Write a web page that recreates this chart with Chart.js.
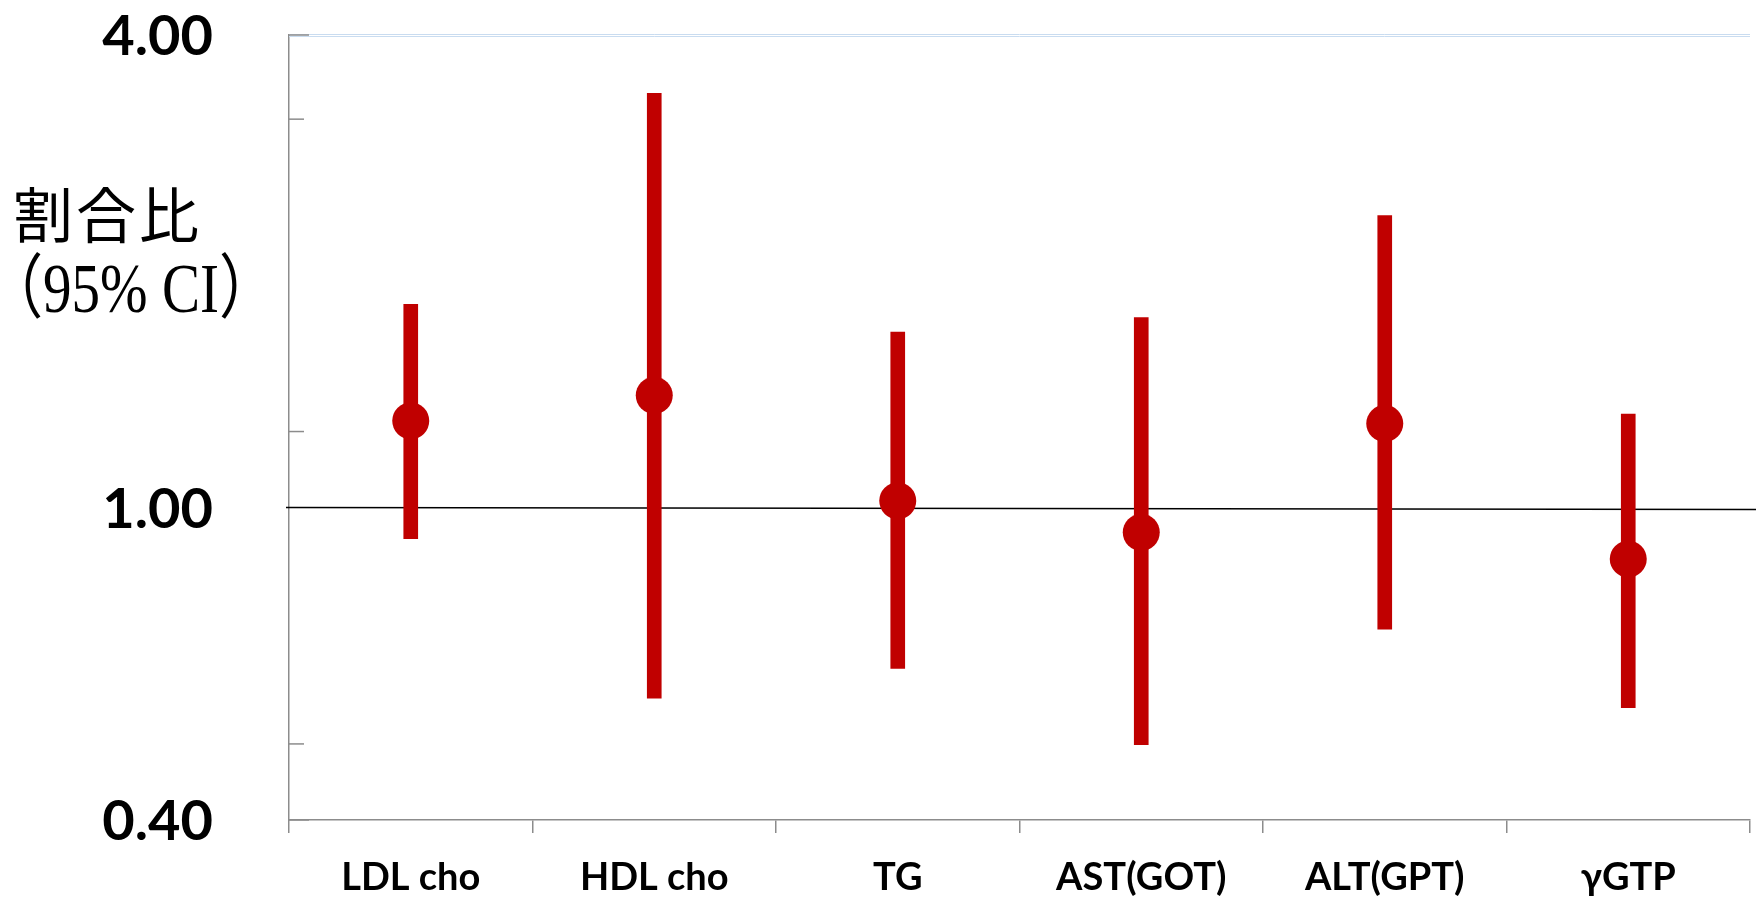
<!DOCTYPE html>
<html>
<head>
<meta charset="utf-8">
<script src="https://cdn.jsdelivr.net/npm/chart.js@4.4.1/dist/chart.umd.min.js"></script>
<style>
  html, body { margin: 0; padding: 0; background: #fff; }
  #wrap { width: 1756px; height: 899px; }
</style>
</head>
<body>
<div id="wrap"><canvas id="chart"></canvas></div>
<script>
// odds ratios with 95% CI
const categories = ['LDL cho', 'HDL cho', 'TG', 'AST(GOT)', 'ALT(GPT)', 'γGTP'];
const ratio  = [1.29, 1.39, 1.02, 0.93, 1.28, 0.86];
const ciLow  = [0.913, 0.572, 0.624, 0.499, 0.700, 0.556];
const ciHigh = [1.816, 3.37, 1.673, 1.746, 2.355, 1.316];
const yTicks = [0.4, 0.5, 1.0, 1.25, 3.125, 4.0];
const yLabelled = [0.4, 1.0, 4.0];

const red = '#c00000';
const axisGray = '#8c8c8c';

// extra drawing: y labels, inside tick marks, top border, reference line, axis title
const decor = {
  id: 'decor',
  beforeDatasetsDraw(chart) {
    const { ctx, scales: { y }, chartArea } = chart;
    const y1 = y.getPixelForValue(1.0);
    ctx.save();
    ctx.strokeStyle = '#000';
    ctx.lineWidth = 1.5;
    ctx.beginPath();
    ctx.moveTo(chartArea.left - 3, y1);
    ctx.lineTo(chart.width, y1 + 2);
    ctx.stroke();
    ctx.restore();
  },
  afterDraw(chart) {
    const { ctx, scales: { y }, chartArea } = chart;
    ctx.save();
    // light blue top border
    ctx.strokeStyle = '#c9dcf0';
    ctx.lineWidth = 1;
    [chartArea.top - 0.5, chartArea.top + 1.5].forEach(py => {
      ctx.beginPath();
      ctx.moveTo(chartArea.left, py);
      ctx.lineTo(chartArea.right, py);
      ctx.stroke();
    });
    // y tick marks pointing inward
    ctx.strokeStyle = axisGray;
    ctx.lineWidth = 1.5;
    yTicks.forEach(v => {
      if (v === 1.0) return;
      const py = y.getPixelForValue(v);
      const len = (v === 0.4 || v === 4.0) ? 20 : 15;
      ctx.beginPath();
      ctx.moveTo(chartArea.left, py);
      ctx.lineTo(chartArea.left + len, py);
      ctx.stroke();
    });
    // y tick labels
    ctx.fillStyle = '#000';
    ctx.font = 'bold 56px Lato';
    ctx.textAlign = 'right';
    ctx.textBaseline = 'middle';
    yLabelled.forEach(v => {
      ctx.fillText(v.toFixed(2), 213, y.getPixelForValue(v) + 2);
    });
    // axis title
    ctx.textAlign = 'left';
    ctx.font = '60px "Noto Sans CJK JP"';
    ['割', '合', '比'].forEach((ch, i) => ctx.fillText(ch, 13 + i * 63, 215));
    ctx.font = '70px "Liberation Serif", "Noto Sans CJK JP"';
    const txt = '（95% CI）';
    const w = ctx.measureText(txt).width;
    const s = 290 / w;
    ctx.translate(-14, 294);
    ctx.scale(s, 1);
    ctx.fillText(txt, 0, 0);
    ctx.restore();
  }
};

new Chart(document.getElementById('chart'), {
  data: {
    labels: categories,
    datasets: [
      {
        type: 'scatter',
        label: 'ratio',
        data: ratio.map((v, i) => ({ x: categories[i], y: v })),
        pointRadius: 18.5,
        pointHoverRadius: 18.5,
        backgroundColor: red,
        borderWidth: 0,
        showLine: false,
        order: 0,
      },
      {
        type: 'bar',
        label: 'CI',
        data: ciLow.map((lo, i) => [lo, ciHigh[i]]),
        backgroundColor: red,
        borderWidth: 0,
        borderSkipped: false,
        barThickness: 14,
        order: 1,
      }
    ]
  },
  options: {
    responsive: true,
    maintainAspectRatio: false,
    animation: false,
    layout: { autoPadding: false, padding: { top: 35, right: 6, left: 0, bottom: 0 } },
    plugins: { legend: { display: false }, tooltip: { enabled: false } },
    scales: {
      x: {
        type: 'category',
        offset: true,
        grid: { offset: true, drawOnChartArea: false, tickLength: 13, color: axisGray, lineWidth: 1.5 },
        border: { display: true, color: axisGray, width: 1.5 },
        ticks: { color: '#000', padding: 22, font: { family: 'Lato', weight: 'bold', size: 38 } },
        afterFit(scale) {
          scale.height = 79;
          scale.paddingLeft = 0;
          scale.paddingRight = 0;
        }
      },
      y: {
        type: 'logarithmic',
        min: 0.4,
        max: 4.0,
        afterBuildTicks(scale) { scale.ticks = yTicks.map(v => ({ value: v })); },
        grid: { display: true, drawOnChartArea: false, drawTicks: false },
        border: { display: true, color: axisGray, width: 1.5 },
        ticks: { display: false },
        afterFit(scale) { scale.width = 289; }
      }
    }
  },
  plugins: [decor]
});
</script>
</body>
</html>
